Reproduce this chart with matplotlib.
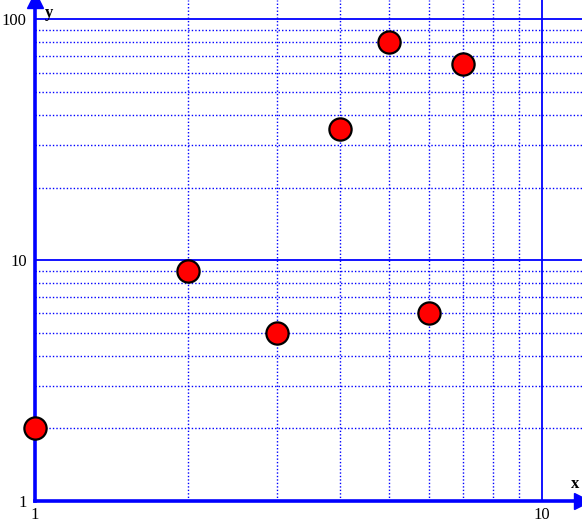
import matplotlib
matplotlib.use('Agg')
import matplotlib.pyplot as plt
from matplotlib.ticker import FixedLocator, NullFormatter, FixedFormatter

# data points
x_vals = [1, 2, 3, 4, 5, 6, 7]
y_vals = [2, 9, 5, 35, 80, 6, 65]

x_major = [1, 10]
y_major = [1, 10, 100]
x_minor = [2, 3, 4, 5, 6, 7, 8, 9]
y_minor = [2, 3, 4, 5, 6, 7, 8, 9, 20, 30, 40, 50, 60, 70, 80, 90]

plt.rcParams['font.family'] = ['Liberation Serif', 'DejaVu Serif']

W, H = 582, 526
fig = plt.figure(figsize=(W / 100, H / 100), dpi=100)
ax = fig.add_axes([35 / W, 25 / H, 547 / W, 501 / H])
ax.set_xscale('log')
ax.set_yscale('log')
ax.set_xlim(1, 12)
ax.set_ylim(1, 120)

blue = '#0000ff'

# grid
for v in x_major[1:]:
    ax.axvline(v, color=blue, lw=1.3, zorder=1)
for v in y_major[1:]:
    ax.axhline(v, color=blue, lw=1.3, zorder=1)
for v in x_minor:
    ax.axvline(v, color=blue, lw=1, ls=(0, (1, 1.5)), zorder=1)
for v in y_minor:
    ax.axhline(v, color=blue, lw=1, ls=(0, (1, 1.5)), zorder=1)

ax.scatter(x_vals, y_vals, s=16**2, color='#ff0000', edgecolors='black',
           linewidths=1.6, zorder=5, clip_on=False)

# axes lines
for side in ['top', 'right']:
    ax.spines[side].set_visible(False)
for side in ['left', 'bottom']:
    ax.spines[side].set_color(blue)
    ax.spines[side].set_linewidth(2.6)
    ax.spines[side].set_zorder(4)

# arrowheads
ax.plot([1], [120], marker='^', color=blue, ms=11, clip_on=False, zorder=6)
ax.plot([12], [1], marker='>', color=blue, ms=11, clip_on=False, zorder=6)

ax.xaxis.set_major_locator(FixedLocator(x_major))
ax.yaxis.set_major_locator(FixedLocator(y_major))
ax.xaxis.set_major_formatter(FixedFormatter([str(v) for v in x_major]))
ax.yaxis.set_major_formatter(FixedFormatter([str(v) for v in y_major]))
ax.xaxis.set_minor_locator(FixedLocator(x_minor))
ax.yaxis.set_minor_locator(FixedLocator(y_minor))
ax.xaxis.set_minor_formatter(NullFormatter())
ax.yaxis.set_minor_formatter(NullFormatter())
ax.tick_params(which='both', length=0)
ax.tick_params(axis='x', pad=4, labelsize=12)
ax.tick_params(axis='y', pad=6, labelsize=12)

ax.text(1.046, 114, 'y', fontsize=12, fontweight='bold', va='top', ha='left')
ax.text(11.85, 1.09, 'x', fontsize=12, fontweight='bold', va='bottom', ha='right')

fig.savefig('out.png', dpi=100)
